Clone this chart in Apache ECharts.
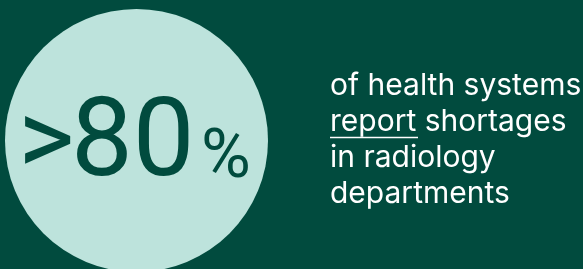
<!DOCTYPE html>
<html><head><meta charset="utf-8">
<script src="https://cdn.jsdelivr.net/npm/echarts@6/dist/echarts.min.js"></script>
<style>html,body{margin:0;padding:0;background:#014b3c;}#c{width:583px;height:269px;}</style>
</head><body><div id="c"></div>
<script>
const statPrefix = ['>'];
const statValue = [80];
const statUnit = ['%'];
const captionLines = ['of health systems', 'report shortages', 'in radiology', 'departments'];

const chart = echarts.init(document.getElementById('c'));
const BIG = 'Roboto';
const FONT = 'Inter';
const BG = '#014b3e';
const MINT = '#bde3dc';

const elements = [
  { type: 'circle', shape: { cx: 136.5, cy: 140.5, r: 131.5 }, style: { fill: MINT } },
  { type: 'text', style: { x: 18, y: 147, text: statPrefix[0], fill: BG, font: '400 108px ' + BIG, verticalAlign: 'middle' } },
  { type: 'text', style: { x: 71, y: 147, text: String(statValue[0]), fill: BG, font: '400 110px ' + BIG, verticalAlign: 'middle' } },
  { type: 'text', style: { x: 201, y: 160, text: statUnit[0], fill: BG, font: '400 68px ' + BIG, verticalAlign: 'middle' } }
];
captionLines.forEach((line, i) => {
  elements.push({ type: 'text', style: { x: 330, y: 86 + i * 36, text: line, fill: '#ffffff', font: '400 30px ' + FONT, verticalAlign: 'middle' } });
});
elements.push({ type: 'line', shape: { x1: 330, y1: 137.5, x2: 418, y2: 137.5 }, style: { stroke: '#ffffff', lineWidth: 1.3 } });

chart.setOption({
  backgroundColor: BG,
  animation: false,
  graphic: { elements }
});
</script></body></html>
